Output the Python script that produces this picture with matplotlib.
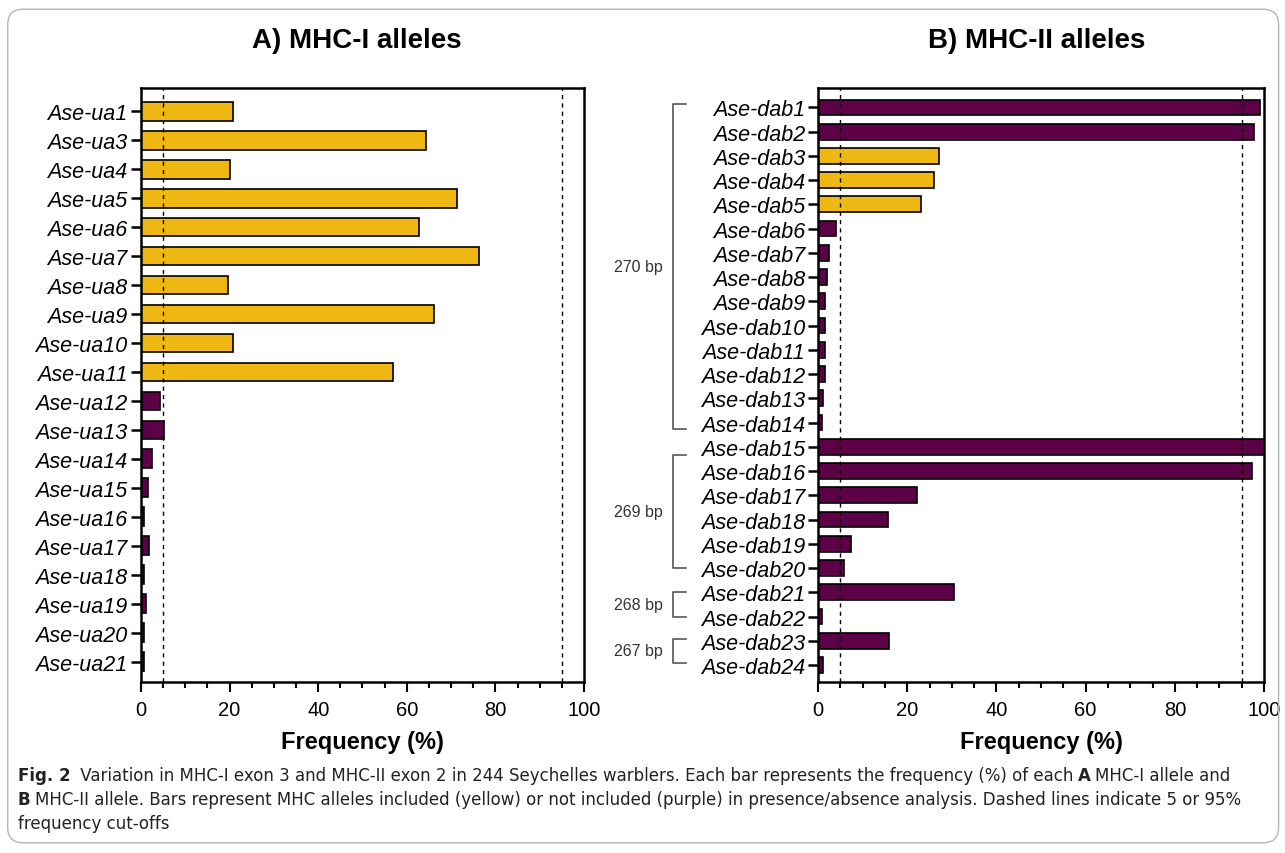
import matplotlib
matplotlib.use("Agg")
import matplotlib.pyplot as plt
import matplotlib.transforms as mtransforms
from matplotlib.patches import FancyBboxPatch
from matplotlib.ticker import MultipleLocator

# ---- data ----
mhc1_alleles = ["Ase-ua1", "Ase-ua3", "Ase-ua4", "Ase-ua5", "Ase-ua6", "Ase-ua7",
                "Ase-ua8", "Ase-ua9", "Ase-ua10", "Ase-ua11", "Ase-ua12", "Ase-ua13",
                "Ase-ua14", "Ase-ua15", "Ase-ua16", "Ase-ua17", "Ase-ua18", "Ase-ua19",
                "Ase-ua20", "Ase-ua21"]
mhc1_freq = [20.8, 64.4, 20.0, 71.3, 62.7, 76.3, 19.6, 66.1, 20.8, 56.9,
             4.4, 5.3, 2.4, 1.6, 0.7, 1.9, 0.7, 1.1, 0.7, 0.7]
mhc1_included = [1] * 10 + [0] * 10

mhc2_alleles = ["Ase-dab%d" % i for i in range(1, 25)]
mhc2_freq = [99.2, 97.7, 27.1, 25.9, 23.0, 4.1, 2.5, 2.0, 1.6, 1.6, 1.6, 1.6, 1.2, 0.8,
             100.0, 97.3, 22.3, 15.6, 7.4, 5.8, 30.4, 0.8, 16.0, 1.2]
mhc2_included = [0, 0, 1, 1, 1] + [0] * 19

bp_labels = ["270 bp", "269 bp", "268 bp", "267 bp"]
bp_spans = [(-0.15, 13.25), (14.35, 19.0), (20.0, 21.0), (21.92, 22.9)]

cutoffs = [5, 95]

YELLOW = "#EFB712"
PURPLE = "#5E0048"

plt.rcParams["font.family"] = ["Liberation Sans", "DejaVu Sans"]

fig = plt.figure(figsize=(12.85, 8.54), dpi=100)

# outer rounded frame
frame = FancyBboxPatch((0.006, 0.012), 0.989, 0.976, transform=fig.transFigure,
                       boxstyle="round,pad=0,rounding_size=0.012",
                       fc="none", ec="#b5b5b5", lw=1.0, mutation_aspect=1285 / 854)
fig.patches.append(frame)


def panel(rect, labels, freq, included, title, title_x):
    ax = fig.add_axes(rect)
    y = list(range(len(labels)))
    colors = [YELLOW if k else PURPLE for k in included]
    ax.barh(y, freq, height=0.65, color=colors, edgecolor="black", linewidth=1.2, zorder=2)
    for c in cutoffs:
        ax.axvline(c, color="black", lw=1.0, ls=(0, (3, 3)), zorder=3)
    ax.set_xlim(0, 100)
    ax.set_ylim(len(labels) - 1 + 0.7, -0.8)
    ax.set_yticks(y)
    ax.set_yticklabels(labels, fontsize=15.5, style="italic")
    ax.xaxis.set_major_locator(MultipleLocator(20))
    ax.xaxis.set_minor_locator(MultipleLocator(5))
    ax.tick_params(axis="x", which="major", length=7, width=1.5, labelsize=14.5, pad=6)
    ax.tick_params(axis="x", which="minor", length=4.5, width=1.5)
    ax.tick_params(axis="y", length=7.5, width=1.8, pad=2)
    for s in ax.spines.values():
        s.set_linewidth(1.8)
    ax.set_xlabel("Frequency (%)", fontsize=17, fontweight="bold", labelpad=8)
    fig.text(title_x, 0.952, title, ha="center", va="center", fontsize=20, fontweight="bold")
    return ax


axA = panel([0.1097, 0.2002, 0.3448, 0.6956], mhc1_alleles, mhc1_freq, mhc1_included,
            "A) MHC-I alleles", 0.278)
axB = panel([0.6366, 0.2002, 0.3471, 0.6956], mhc2_alleles, mhc2_freq, mhc2_included,
            "B) MHC-II alleles", 0.807)

# bracket annotations for fragment lengths
trans = mtransforms.blended_transform_factory(fig.transFigure, axB.transData)
xv, xt = 0.5237, 0.5337
for lab, (y0, y1) in zip(bp_labels, bp_spans):
    axB.plot([xt, xv, xv, xt], [y0, y0, y1, y1], transform=trans, color="#555555",
             lw=1.2, clip_on=False)
    fig.text(0.516, (y0 + y1) / 2, lab, transform=trans, ha="right", va="center",
             fontsize=11.5, color="#333333")

# caption with mixed bold / normal runs
CAP = ["DejaVu Sans"]
renderer = fig.canvas.get_renderer()


def rich_line(x, y, pieces, size=12):
    for txt, bold in pieces:
        t = fig.text(x, y, txt, fontsize=size, family=CAP,
                     fontweight="bold" if bold else "normal", va="center", color="#222222")
        bb = t.get_window_extent(renderer)
        x = fig.transFigure.inverted().transform((bb.x1, bb.y0))[0] + 4.5 / 1285


rich_line(0.014, 0.0913, [("Fig. 2", True),
                          (" Variation in MHC-I exon 3 and MHC-II exon 2 in 244 Seychelles warblers. "
                           "Each bar represents the frequency (%) of each", False),
                          ("A", True), ("MHC-I allele and", False)])
rich_line(0.014, 0.0632, [("B", True),
                          ("MHC-II allele. Bars represent MHC alleles included (yellow) or not included "
                           "(purple) in presence/absence analysis. Dashed lines indicate 5 or 95%", False)])
rich_line(0.014, 0.0351, [("frequency cut-offs", False)])

fig.savefig("out.png", dpi=100)
